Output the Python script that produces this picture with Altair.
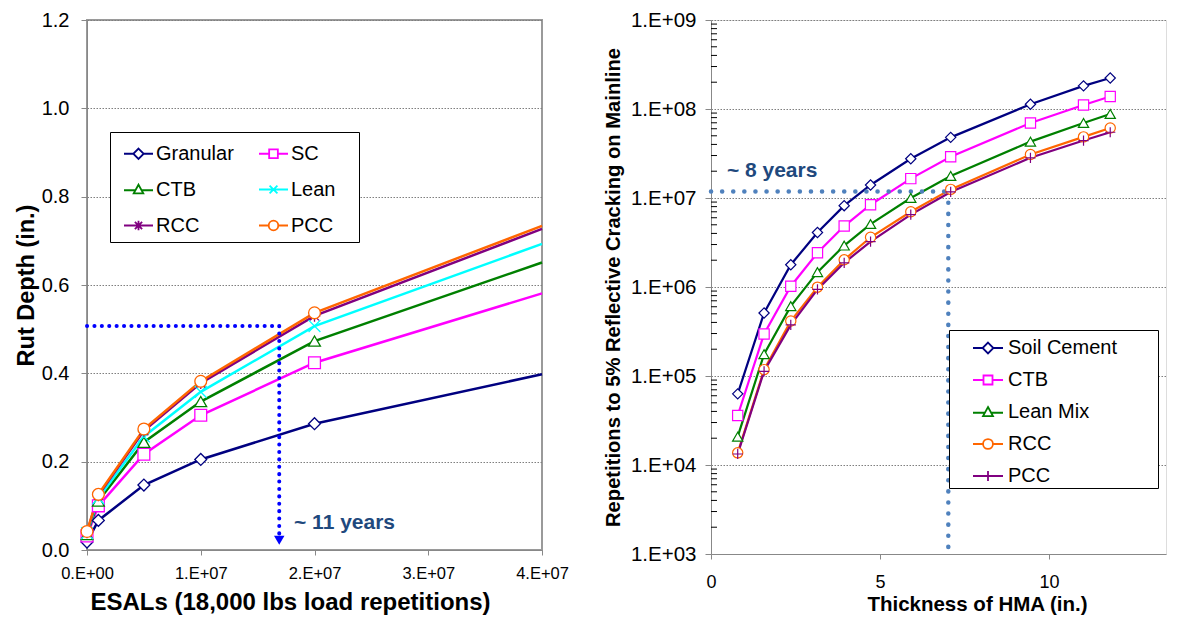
import altair as alt
import pandas as pd

FONT = "Liberation Sans"
TEXT_BLUE = "#1F497D"
NB = "\u00a0"
ZW = "\u200b"

# ---------------- Left chart data ----------------
ESALS = [0, 1e6, 5e6, 1e7, 2e7, 4e7]
SHOW_MARKER = [True, True, True, True, True, False]
LEFT_SERIES = ["Granular", "SC", "CTB", "Lean", "RCC", "PCC"]
LEFT_COLORS = ["#000080", "#FF00FF", "#008000", "#00FFFF", "#800080", "#FF6600"]
rut_granular = [0.018, 0.067, 0.147, 0.205, 0.286, 0.398]
rut_sc = [0.032, 0.100, 0.217, 0.305, 0.424, 0.581]
rut_ctb = [0.035, 0.111, 0.244, 0.336, 0.473, 0.651]
rut_lean = [0.038, 0.117, 0.257, 0.358, 0.507, 0.693]
rut_rcc = [0.040, 0.124, 0.270, 0.378, 0.530, 0.727]
rut_pcc = [0.042, 0.126, 0.274, 0.382, 0.537, 0.734]
# legend reading order (the legend grid fills column by column)
LEFT_LEGEND_ORDER = ["Granular", "CTB", "RCC", "SC", "Lean", "PCC"]
LEFT_XTICKS = [0, 1e7, 2e7, 3e7, 4e7]
LEFT_YTICKS = [0, 0.2, 0.4, 0.6, 0.8, 1.0, 1.2]
ARROW_X = 1.69e7
ARROW_Y = 0.507
ARROW_END = 0.03
ARROW_TIP = 0.022
LEFT_NOTE = "~ 11 years"
LEFT_NOTE_X = 1.82e7
LEFT_NOTE_Y = 0.061

# ---------------- Right chart data ----------------
THICKNESS = [0.79, 1.57, 2.36, 3.15, 3.94, 4.72, 5.91, 7.09, 9.45, 11.02, 11.81]
RIGHT_SERIES = ["Soil Cement", "CTB", "Lean Mix", "RCC", "PCC"]
RIGHT_COLORS = ["#000080", "#FF00FF", "#008000", "#FF6600", "#800080"]
reps_soil = [6.3e4, 5.1e5, 1.78e6, 4.1e6, 8.2e6, 1.40e7, 2.76e7, 4.8e7, 1.13e8, 1.82e8, 2.23e8]
reps_ctb = [3.6e4, 2.97e5, 1.02e6, 2.42e6, 4.84e6, 8.4e6, 1.65e7, 2.9e7, 6.96e7, 1.11e8, 1.38e8]
reps_lean = [2.08e4, 1.76e5, 6.1e5, 1.47e6, 2.92e6, 5.1e6, 1.0e7, 1.77e7, 4.3e7, 6.97e7, 8.8e7]
reps_rcc = [1.37e4, 1.18e5, 4.15e5, 9.96e5, 2.02e6, 3.62e6, 7.0e6, 1.25e7, 3.08e7, 4.86e7, 6.12e7]
reps_pcc = [1.33e4, 1.13e5, 3.75e5, 9.4e5, 1.87e6, 3.24e6, 6.5e6, 1.17e7, 2.83e7, 4.42e7, 5.48e7]
RIGHT_XTICKS = [0, 5, 10]
RIGHT_YTICKS = [1e3, 1e4, 1e5, 1e6, 1e7, 1e8, 1e9]
RIGHT_MINOR = [k * 10 ** n for n in range(3, 9) for k in range(2, 10)]
GUIDE_X = 7.02
GUIDE_Y = 1.18e7
GUIDE_BOTTOM = 1e3
RIGHT_NOTE = "~ 8 years"
RIGHT_NOTE_X = 0.47
RIGHT_NOTE_Y = 2.03e7

# ---------------- marker shapes ----------------
X_PATH = "M-1,-1L1,1M-1,1L1,-1"
STAR_PATH = "M-1,0H1M0,-1V1M-0.75,-0.75L0.75,0.75M-0.75,0.75L0.75,-0.75"
PLUS_PATH = "M-1,0H1M0,-1V1"
LEFT_SHAPES = ["diamond", "square", "triangle-up", X_PATH, STAR_PATH, "circle"]
RIGHT_SHAPES = ["diamond", "square", "triangle-up", "circle", PLUS_PATH]

LG_DIAMOND = "M-1,0H-0.36M0.36,0H1M0,-0.36L0.36,0L0,0.36L-0.36,0Z"
LG_SQUARE = "M-1,0H-0.3M0.3,0H1M-0.3,-0.3H0.3V0.3H-0.3Z"
LG_TRIANGLE = "M-1,0.05H-0.2M0.2,0.05H1M0,-0.33L0.33,0.27L-0.33,0.27Z"
LG_X = "M-1,0H1M-0.27,-0.27L0.27,0.27M-0.27,0.27L0.27,-0.27"
LG_STAR = "M-1,0H1M0,-0.33V0.33M-0.25,-0.25L0.25,0.25M-0.25,0.25L0.25,-0.25"
LG_CIRCLE = "M-1,0H-0.33M0.33,0H1M-0.33,0A0.33,0.33 0 1,0 0.33,0A0.33,0.33 0 1,0 -0.33,0Z"
LG_PLUS = "M-1,0H1M0,-0.33V0.33"
LEFT_LEGEND_SHAPE_OF = {"Granular": LG_DIAMOND, "SC": LG_SQUARE, "CTB": LG_TRIANGLE,
                        "Lean": LG_X, "RCC": LG_STAR, "PCC": LG_CIRCLE}
RIGHT_LEGEND_SHAPES = [LG_DIAMOND, LG_SQUARE, LG_TRIANGLE, LG_CIRCLE, LG_PLUS]

# ---------------- tables ----------------
left_rows = []
for s, vals in zip(LEFT_SERIES, [rut_granular, rut_sc, rut_ctb, rut_lean, rut_rcc, rut_pcc]):
    for x, y, m in zip(ESALS, vals, SHOW_MARKER):
        left_rows.append({"series": s, "esal": x, "rut": y, "marker": m})
left_df = pd.DataFrame(left_rows)

right_rows = []
for s, vals in zip(RIGHT_SERIES, [reps_soil, reps_ctb, reps_lean, reps_rcc, reps_pcc]):
    for x, y in zip(THICKNESS, vals):
        right_rows.append({"series": s, "thk": x, "reps": y})
right_df = pd.DataFrame(right_rows)
minor_df = pd.DataFrame({"v": RIGHT_MINOR})

color_of = dict(zip(LEFT_SERIES, LEFT_COLORS))

# ---------------- left chart ----------------
lx_scale = alt.Scale(domain=[0, 4e7], nice=False, zero=False)
ly_scale = alt.Scale(domain=[0, 1.2], nice=False)
lx_axis = alt.Axis(
    values=LEFT_XTICKS,
    labelExpr="datum.value == 0 ? '0.E+00' : format(datum.value / 1e7, 'd') + '.E+07'",
    title="ESALs (18,000 lbs load repetitions)", titleFontSize=24, titleFontWeight="bold",
    labelFontSize=16.5, tickSize=5, labelPadding=10, titlePadding=9, grid=False,
    labelFlush=False, labelOverlap=False, titleX=203,
)
ly_axis = alt.Axis(
    values=LEFT_YTICKS, format=".1f", title="Rut Depth (in.)", titleFontSize=23.5,
    titleFontWeight="bold", labelFontSize=20, tickSize=6, labelPadding=12, titlePadding=3,
    grid=True, gridDash=[1.5, 1.5], gridColor="#7F7F7F", gridWidth=1, labelFlush=False,
    labelOverlap=False,
)
l_stroke = alt.Scale(domain=LEFT_SERIES, range=LEFT_COLORS)

lx = alt.X("esal:Q", scale=lx_scale, axis=lx_axis)
ly = alt.Y("rut:Q", scale=ly_scale, axis=ly_axis)

l_lines = alt.Chart(left_df).mark_line(strokeWidth=2.5).encode(
    x=lx, y=ly,
    stroke=alt.Stroke("series:N", scale=l_stroke, legend=None),
    order=alt.Order("esal:Q"),
)
l_points = alt.Chart(left_df).transform_filter("datum.marker").mark_point(
    filled=True, fill="white", size=140, strokeWidth=1.3, opacity=1
).encode(
    x=lx, y=ly,
    stroke=alt.Stroke("series:N", scale=l_stroke, legend=None),
    shape=alt.Shape("series:N", scale=alt.Scale(domain=LEFT_SERIES, range=LEFT_SHAPES), legend=None),
)
l_leg = dict(
    orient="none", legendX=23, legendY=112, columns=2, title=None, labelFont=FONT,
    labelFontSize=20, labelColor="black", symbolSize=841, symbolStrokeWidth=1.8,
    symbolOpacity=1, fillColor="white", strokeColor="black", padding=6, rowPadding=10,
    columnPadding=0, symbolOffset=7, labelOffset=2, labelLimit=400,
    labelExpr="datum.label + '" + NB * 3 + ZW + "'",
)
l_legend_layer = alt.Chart(left_df).transform_filter("false").mark_point(
    filled=False, strokeWidth=1.8
).encode(
    x=lx, y=ly,
    stroke=alt.Stroke("series:N", scale=alt.Scale(domain=LEFT_LEGEND_ORDER,
                                                  range=[color_of[s] for s in LEFT_LEGEND_ORDER]),
                      legend=alt.Legend(**l_leg)),
    shape=alt.Shape("series:N", scale=alt.Scale(domain=LEFT_LEGEND_ORDER,
                                                range=[LEFT_LEGEND_SHAPE_OF[s] for s in LEFT_LEGEND_ORDER]),
                    legend=alt.Legend(**l_leg)),
)

arrow_h = pd.DataFrame({"x": [0], "x2": [ARROW_X], "y": [ARROW_Y]})
arrow_v = pd.DataFrame({"x": [ARROW_X], "y": [ARROW_Y], "y2": [ARROW_END]})
arrow_tip = pd.DataFrame({"x": [ARROW_X], "y": [ARROW_TIP]})
l_note = pd.DataFrame({"x": [LEFT_NOTE_X], "y": [LEFT_NOTE_Y], "t": [LEFT_NOTE]})
dot_style = dict(color="#0000FF", strokeWidth=4, strokeDash=[0.1, 7.3], strokeCap="round")
l_ah = alt.Chart(arrow_h).mark_rule(**dot_style).encode(
    x=alt.X("x:Q", scale=lx_scale, axis=lx_axis), x2="x2:Q",
    y=alt.Y("y:Q", scale=ly_scale, axis=ly_axis))
l_av = alt.Chart(arrow_v).mark_rule(**dot_style).encode(
    x=alt.X("x:Q", scale=lx_scale, axis=lx_axis),
    y=alt.Y("y:Q", scale=ly_scale, axis=ly_axis), y2="y2:Q")
l_tip = alt.Chart(arrow_tip).mark_point(shape="triangle-down", filled=True, color="#0000FF",
                                        size=110, opacity=1).encode(
    x=alt.X("x:Q", scale=lx_scale, axis=lx_axis), y=alt.Y("y:Q", scale=ly_scale, axis=ly_axis))
l_text = alt.Chart(l_note).mark_text(align="left", baseline="middle", font=FONT, fontSize=21,
                                     fontWeight="bold", color=TEXT_BLUE).encode(
    x=alt.X("x:Q", scale=lx_scale, axis=lx_axis), y=alt.Y("y:Q", scale=ly_scale, axis=ly_axis),
    text="t:N")

left = alt.layer(l_lines, l_ah, l_av, l_tip, l_points, l_legend_layer, l_text).resolve_scale(
    stroke="independent", shape="independent"
).properties(width=455, height=530, view=alt.ViewBackground(stroke="#9A9A9A", strokeWidth=2))

# ---------------- right chart ----------------
R_WIDTH = 455
rx_scale = alt.Scale(domain=[0, 13.46], nice=False, zero=False)
ry_scale = alt.Scale(type="log", domain=[1e3, 1e9], nice=False)
rx_axis = alt.Axis(values=RIGHT_XTICKS, format="d", title="Thickness of HMA (in.)",
                   titleFontSize=20.5, titleFontWeight="bold", labelFontSize=18, tickSize=5,
                   labelPadding=14, titlePadding=3, grid=False, labelFlush=False, titleX=266)
ry_axis = alt.Axis(values=RIGHT_YTICKS, orient="left",
                   labelExpr="'1.E+0' + format(log(datum.value) / LN10, '.0f')",
                   title="Repetitions to 5% Reflective Cracking on Mainline", titleFontSize=20.2,
                   titleFontWeight="bold", labelFontSize=20.5, tickSize=6, labelPadding=9,
                   titlePadding=7, grid=True, gridDash=[1.5, 1.5], gridColor="#7F7F7F", gridWidth=1,
                   labelFlush=False, labelOverlap=False)
r_stroke = alt.Scale(domain=RIGHT_SERIES, range=RIGHT_COLORS)
rx = alt.X("thk:Q", scale=rx_scale, axis=rx_axis)
ry = alt.Y("reps:Q", scale=ry_scale, axis=ry_axis)

r_lines = alt.Chart(right_df).mark_line(strokeWidth=2.2).encode(
    x=rx, y=ry,
    stroke=alt.Stroke("series:N", scale=r_stroke, legend=None),
    order=alt.Order("thk:Q"),
)
# minor log ticks drawn just inside the y axis
r_minor = alt.Chart(minor_df).mark_rule(color="black", strokeWidth=1).encode(
    y=alt.Y("v:Q", scale=ry_scale, axis=ry_axis), x=alt.value(0), x2=alt.value(6))
r_points = alt.Chart(right_df).mark_point(
    filled=True, fill="white", size=105, strokeWidth=1.2, opacity=1
).encode(
    x=rx, y=ry,
    stroke=alt.Stroke("series:N", scale=r_stroke, legend=None),
    shape=alt.Shape("series:N", scale=alt.Scale(domain=RIGHT_SERIES, range=RIGHT_SHAPES), legend=None),
)
r_leg = dict(
    orient="none", legendX=238, legendY=310, columns=1, title=None, labelFont=FONT,
    labelFontSize=20, labelColor="black", symbolSize=900, symbolStrokeWidth=1.8,
    symbolOpacity=1, fillColor="white", strokeColor="black", padding=2, rowPadding=6,
    symbolOffset=21, labelOffset=4, labelLimit=400,
    labelExpr="datum.label + '" + NB * 7 + ZW + "'",
)
r_legend_layer = alt.Chart(right_df).transform_filter("false").mark_point(
    filled=False, strokeWidth=1.8
).encode(
    x=rx, y=ry,
    stroke=alt.Stroke("series:N", scale=r_stroke, legend=alt.Legend(**r_leg)),
    shape=alt.Shape("series:N", scale=alt.Scale(domain=RIGHT_SERIES, range=RIGHT_LEGEND_SHAPES),
                    legend=alt.Legend(**r_leg)),
)
guide_h = pd.DataFrame({"x": [0], "x2": [GUIDE_X], "y": [GUIDE_Y]})
guide_v = pd.DataFrame({"x": [GUIDE_X], "y": [GUIDE_Y], "y2": [GUIDE_BOTTOM]})
r_note = pd.DataFrame({"x": [RIGHT_NOTE_X], "y": [RIGHT_NOTE_Y], "t": [RIGHT_NOTE]})
gdot = dict(color="#4F81BD", strokeWidth=4.5, strokeDash=[0.1, 11], strokeCap="round")
r_gh = alt.Chart(guide_h).mark_rule(**gdot).encode(
    x=alt.X("x:Q", scale=rx_scale, axis=rx_axis), x2="x2:Q",
    y=alt.Y("y:Q", scale=ry_scale, axis=ry_axis))
r_gv = alt.Chart(guide_v).mark_rule(**gdot).encode(
    x=alt.X("x:Q", scale=rx_scale, axis=rx_axis),
    y=alt.Y("y:Q", scale=ry_scale, axis=ry_axis), y2="y2:Q")
r_text = alt.Chart(r_note).mark_text(align="left", baseline="middle", font=FONT, fontSize=21,
                                     fontWeight="bold", color=TEXT_BLUE).encode(
    x=alt.X("x:Q", scale=rx_scale, axis=rx_axis), y=alt.Y("y:Q", scale=ry_scale, axis=ry_axis),
    text="t:N")

right = alt.layer(r_lines, r_minor, r_gh, r_gv, r_points, r_legend_layer, r_text).resolve_scale(
    stroke="independent", shape="independent"
).properties(width=R_WIDTH, height=534)

chart = alt.hconcat(left, right, spacing=169, bounds="flush").properties(
    padding={"left": 5, "top": 1, "right": 0, "bottom": 0}
).configure_view(stroke=None).configure_axis(
    labelFont=FONT, titleFont=FONT, labelColor="black", titleColor="black",
    domainColor="black", domainWidth=2, tickColor="black", tickWidth=1.5,
).configure(font=FONT)

chart.save("out.html", embed_options={"renderer": "svg", "actions": False})
